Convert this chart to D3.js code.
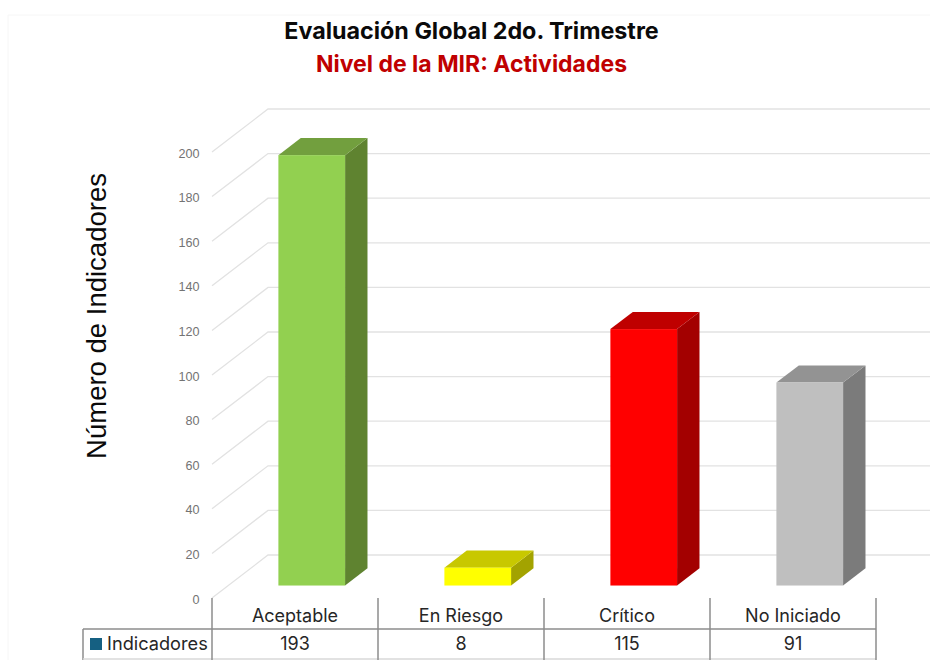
<!DOCTYPE html>
<html>
<head>
<meta charset="utf-8">
<script src="https://d3js.org/d3.v7.min.js"></script>
<style>
    body { margin: 0; background: #fff; }
    svg text { font-family: Inter, "Noto Sans", sans-serif; }
    .grid path { stroke: #e2e2e2; stroke-width: 1.3; fill: none; }
    .yaxis .domain { display: none; }
    .yaxis line { display: none; }
    .yaxis text { fill: #737373; font-size: 12.6px; font-family: "Liberation Sans", sans-serif; }
    .tbl line { stroke: #8c8c8c; stroke-width: 1.5; }
</style>
</head>
<body>
<svg id="chart" width="930" height="660"></svg>
<script>
const categories = ['Aceptable', 'En Riesgo', 'Crítico', 'No Iniciado'];
const values = [193, 8, 115, 91];
const yTicks = [0, 20, 40, 60, 80, 100, 120, 140, 160, 180, 200];
const frontColors = ['#92d050', '#ffff00', '#ff0000', '#bfbfbf'];
const topColors = ['#729f3e', '#c8c800', '#bf0000', '#939393'];
const sideColors = ['#5f8330', '#a3a300', '#a30000', '#7b7b7b'];

const svg = d3.select('svg#chart');

// front plane of the 3d box, the back wall is the same thing shifted by depth
const xScale = d3.scaleBand().domain(categories).range([212, 876]);
const yScale = d3.scaleLinear().domain([0, 200]).range([598, 152]);
const depth = {x: 56, y: -43};
const barWidth = 66.7;
const barDepthStart = 0.29, barDepthEnd = 0.69;

let border = svg.append('path')
    .attr('d', 'M8,660V15H930')
    .attr('fill', 'none')
    .attr('stroke', '#f6f6f6');

// gridlines
let grid = svg.append('g').attr('class', 'grid');
yTicks.forEach(t => {
    const y = yScale(t);
    grid.append('path')
        .attr('d', d3.line()([[212, y], [212 + depth.x, y + depth.y], [876 + depth.x, y + depth.y]]));
});

let leftAxis = d3.axisLeft(yScale).tickValues(yTicks).tickSize(0).tickPadding(12.5);
svg.append('g').attr('class', 'yaxis')
    .attr('transform', 'translate(212,1)')
    .call(leftAxis);

// bars
categories.forEach((c, i) => {
    const x0 = xScale(c) + (xScale.bandwidth() - barWidth) / 2 + depth.x * barDepthStart + 0.5;
    const x1 = x0 + barWidth;
    const base = yScale(0) + depth.y * barDepthStart;
    const top = yScale(values[i]) + depth.y * barDepthStart;
    const dx = depth.x * (barDepthEnd - barDepthStart);
    const dy = depth.y * (barDepthEnd - barDepthStart);
    let g = svg.append('g').attr('class', 'bar');
    g.append('path')
        .attr('d', d3.line()([[x1, base], [x1 + dx, base + dy], [x1 + dx, top + dy], [x1, top]]) + 'Z')
        .attr('fill', sideColors[i]);
    g.append('path')
        .attr('d', d3.line()([[x0, top], [x0 + dx, top + dy], [x1 + dx, top + dy], [x1, top]]) + 'Z')
        .attr('fill', topColors[i]);
    g.append('rect')
        .attr('x', x0).attr('y', top)
        .attr('width', barWidth).attr('height', base - top)
        .attr('fill', frontColors[i]);
});

// data table under the chart
let tbl = svg.append('g').attr('class', 'tbl');
const rowY = 629;
tbl.append('line').attr('x1', 83).attr('x2', 876).attr('y1', rowY).attr('y2', rowY);
tbl.append('line').attr('x1', 83).attr('x2', 83).attr('y1', rowY).attr('y2', 660);
tbl.append('line').attr('x1', 83).attr('x2', 876).attr('y1', 659).attr('y2', 659)
    .style('stroke', '#d9d9d9');
categories.concat(['end']).forEach((c, i) => {
    const x = 212 + i * xScale.step();
    tbl.append('line').attr('x1', x).attr('x2', x).attr('y1', 598).attr('y2', 660);
});
categories.forEach((c, i) => {
    const cx = xScale(c) + xScale.bandwidth() / 2;
    svg.append('text').attr('x', cx).attr('y', 622).attr('text-anchor', 'middle')
        .attr('font-size', 18).attr('fill', '#262626').text(c);
    svg.append('text').attr('x', cx).attr('y', 650).attr('text-anchor', 'middle')
        .attr('font-size', 18).attr('fill', '#262626').text(values[i]);
});
svg.append('rect').attr('x', 90).attr('y', 638).attr('width', 12).attr('height', 12).attr('fill', '#156082');
svg.append('text').attr('x', 107).attr('y', 650)
    .attr('font-size', 18.2).attr('fill', '#262626').text('Indicadores');

// titles
svg.append('text').attr('x', 471.5).attr('y', 39).attr('text-anchor', 'middle')
    .attr('font-size', 23.3).attr('font-weight', 700).attr('fill', '#0a0a0a')
    .text('Evaluación Global 2do. Trimestre');
svg.append('text').attr('x', 471.5).attr('y', 72).attr('text-anchor', 'middle')
    .attr('font-size', 23).attr('font-weight', 700).attr('fill', '#c00000')
    .text('Nivel de la MIR: Actividades');
svg.append('text')
    .attr('transform', 'translate(106,316) rotate(-90)')
    .attr('text-anchor', 'middle')
    .attr('font-size', 27.5).attr('fill', '#0a0a0a')
    .style('font-family', '"Liberation Sans", sans-serif')
    .text('Número de Indicadores');
</script>
</body>
</html>
